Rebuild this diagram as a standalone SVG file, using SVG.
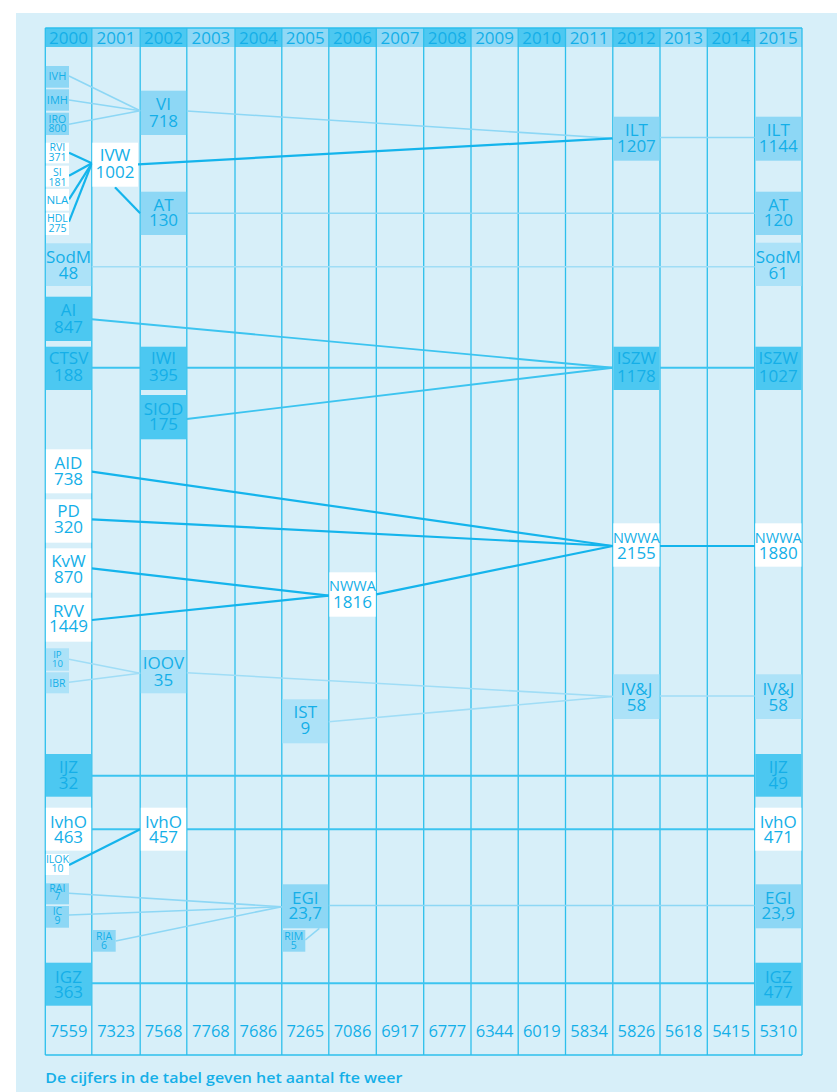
<svg xmlns="http://www.w3.org/2000/svg" width="837" height="1092" viewBox="0 0 837 1092">
<style>
text{font-family:"Open Sans","Noto Sans","Liberation Sans",sans-serif;fill:#14afe8;text-anchor:middle}
.t17{font-size:17px}
.t16{font-size:16.5px}
.t13{font-size:14.5px}
.t11{font-size:11.5px}
.t10{font-size:11px}
.t9{font-size:10.5px}
.t8{font-size:9.5px}
.dk{fill:#4cc8f1}
.md{fill:#8dd7f5}
.lt{fill:#ace2f8}
.wh{fill:#ffffff}
.hd{fill:#4dc8f1}
.hl{fill:#8fd8f5}
.grid line{stroke:#2dbfec;stroke-width:1.3}
.c-md{stroke:#8dd7f5;stroke-width:1.6;fill:none}
.c-lt{stroke:#a0ddf6;stroke-width:1.6;fill:none}
.c-dk{stroke:#3cc4f0;stroke-width:1.9;fill:none}
.c-wh{stroke:#14b4ec;stroke-width:2.2;fill:none}
</style>
<rect x="0" y="0" width="837" height="1092" fill="#ffffff"/>
<rect x="16" y="13" width="821" height="1079" fill="#d7eff9"/>

<g id="header">
<rect class="hd" x="45.3" y="28" width="46.5" height="19"/>
<rect class="hl" x="91.8" y="28" width="48.4" height="19"/>
<rect class="hd" x="140.2" y="28" width="46.6" height="19"/>
<rect class="hl" x="186.8" y="28" width="48.2" height="19"/>
<rect class="hd" x="235" y="28" width="46.8" height="19"/>
<rect class="hl" x="281.8" y="28" width="47" height="19"/>
<rect class="hd" x="328.8" y="28" width="47.5" height="19"/>
<rect class="hl" x="376.3" y="28" width="47.4" height="19"/>
<rect class="hd" x="423.7" y="28" width="47.3" height="19"/>
<rect class="hl" x="471" y="28" width="47.2" height="19"/>
<rect class="hd" x="518.2" y="28" width="47.3" height="19"/>
<rect class="hl" x="565.5" y="28" width="47.3" height="19"/>
<rect class="hd" x="612.8" y="28" width="47.2" height="19"/>
<rect class="hl" x="660" y="28" width="47.3" height="19"/>
<rect class="hd" x="707.3" y="28" width="47.4" height="19"/>
<rect class="hl" x="754.7" y="28" width="47.3" height="19"/>
<text class="t17" x="68.5" y="44">2000</text>
<text class="t17" x="116" y="44">2001</text>
<text class="t17" x="163.5" y="44">2002</text>
<text class="t17" x="210.9" y="44">2003</text>
<text class="t17" x="258.4" y="44">2004</text>
<text class="t17" x="305.3" y="44">2005</text>
<text class="t17" x="352.5" y="44">2006</text>
<text class="t17" x="400" y="44">2007</text>
<text class="t17" x="447.3" y="44">2008</text>
<text class="t17" x="494.6" y="44">2009</text>
<text class="t17" x="541.8" y="44">2010</text>
<text class="t17" x="589.1" y="44">2011</text>
<text class="t17" x="636.4" y="44">2012</text>
<text class="t17" x="683.6" y="44">2013</text>
<text class="t17" x="731" y="44">2014</text>
<text class="t17" x="778.3" y="44">2015</text>
</g>

<g class="grid" id="grid">
<line x1="45.3" y1="28" x2="45.3" y2="1055"/>
<line x1="91.8" y1="28" x2="91.8" y2="1055"/>
<line x1="140.2" y1="28" x2="140.2" y2="1055"/>
<line x1="186.8" y1="28" x2="186.8" y2="1055"/>
<line x1="235" y1="28" x2="235" y2="1055"/>
<line x1="281.8" y1="28" x2="281.8" y2="1055"/>
<line x1="328.8" y1="28" x2="328.8" y2="1055"/>
<line x1="376.3" y1="28" x2="376.3" y2="1055"/>
<line x1="423.7" y1="28" x2="423.7" y2="1055"/>
<line x1="471" y1="28" x2="471" y2="1055"/>
<line x1="518.2" y1="28" x2="518.2" y2="1055"/>
<line x1="565.5" y1="28" x2="565.5" y2="1055"/>
<line x1="612.8" y1="28" x2="612.8" y2="1055"/>
<line x1="660" y1="28" x2="660" y2="1055"/>
<line x1="707.3" y1="28" x2="707.3" y2="1055"/>
<line x1="754.7" y1="28" x2="754.7" y2="1055"/>
<line x1="802" y1="28" x2="802" y2="1055"/>
<line x1="45.3" y1="28" x2="802" y2="28"/>
<line x1="45.3" y1="1055" x2="802" y2="1055"/>
</g>

<g id="connectors">
<line class="c-md" x1="69" y1="76" x2="140.2" y2="110.7"/>
<line class="c-md" x1="69" y1="100" x2="140.2" y2="110.7"/>
<line class="c-md" x1="69" y1="124.3" x2="140.2" y2="110.7"/>
<line class="c-md" x1="186.8" y1="111" x2="612.8" y2="138.3"/>
<line class="c-md" x1="660" y1="137.5" x2="754.7" y2="137.5"/>
<line class="c-md" x1="186.8" y1="213.3" x2="754.7" y2="213.3"/>
<line class="c-md" x1="69" y1="893.3" x2="281.8" y2="906.7"/>
<line class="c-md" x1="69" y1="915" x2="281.8" y2="906.7"/>
<line class="c-md" x1="115.7" y1="941" x2="281.8" y2="906.7"/>
<line class="c-md" x1="305.3" y1="940" x2="319.3" y2="928.3"/>
<line class="c-md" x1="328.8" y1="905.5" x2="754.7" y2="905.5"/>
<line class="c-lt" x1="91.8" y1="266.7" x2="754.7" y2="266.7"/>
<line class="c-lt" x1="69" y1="659.3" x2="140.2" y2="673.3"/>
<line class="c-lt" x1="69" y1="682.3" x2="140.2" y2="673.3"/>
<line class="c-lt" x1="186.8" y1="672.7" x2="612.8" y2="696.5"/>
<line class="c-lt" x1="328.8" y1="721.7" x2="612.8" y2="696.5"/>
<line class="c-lt" x1="660" y1="696" x2="754.7" y2="696"/>
<line class="c-dk" x1="91.8" y1="319.3" x2="612.8" y2="367.7"/>
<line class="c-dk" x1="91.8" y1="367.7" x2="140.2" y2="367.7"/>
<line class="c-dk" x1="186.8" y1="367.7" x2="612.8" y2="367.7"/>
<line class="c-dk" x1="660" y1="367.7" x2="754.7" y2="367.7"/>
<line class="c-dk" x1="186.8" y1="419" x2="612.8" y2="367.7"/>
<line class="c-dk" x1="91.8" y1="775.7" x2="754.7" y2="775.7"/>
<line class="c-dk" x1="91.8" y1="983.3" x2="754.7" y2="983.3"/>
<line class="c-dk" x1="91.8" y1="829.3" x2="140.2" y2="829.3"/>
<line class="c-dk" x1="186.8" y1="829.3" x2="754.7" y2="829.3"/>
<line class="c-wh" x1="69" y1="152.7" x2="91.8" y2="163.3"/>
<line class="c-wh" x1="69" y1="175.7" x2="91.8" y2="163.3"/>
<line class="c-wh" x1="69" y1="199.3" x2="91.8" y2="163.3"/>
<line class="c-wh" x1="69" y1="221.7" x2="91.8" y2="163.3"/>
<line class="c-wh" x1="138" y1="164.3" x2="612.8" y2="138.3"/>
<line class="c-wh" x1="115" y1="187.3" x2="140.2" y2="213.3"/>
<line class="c-wh" x1="91.8" y1="471.7" x2="612.8" y2="546"/>
<line class="c-wh" x1="91.8" y1="519.3" x2="612.8" y2="546"/>
<line class="c-wh" x1="91.8" y1="568.3" x2="328.8" y2="595.7"/>
<line class="c-wh" x1="91.8" y1="620" x2="328.8" y2="595.7"/>
<line class="c-wh" x1="376.3" y1="594.3" x2="612.8" y2="546"/>
<line class="c-wh" x1="660" y1="546" x2="754.7" y2="546"/>
<line class="c-wh" x1="69" y1="865" x2="140.2" y2="829.3"/>
</g>

<!-- 2000 column -->
<g id="IVH"><rect class="md" x="45.9" y="66" width="23.1" height="21.7"/><text class="t10" x="57.4" y="80">IVH</text></g>
<g id="IMH"><rect class="md" x="45.9" y="89.3" width="23.1" height="21.4"/><text class="t10" x="57.4" y="104">IMH</text></g>
<g id="IRO"><rect class="md" x="45.9" y="112.7" width="23.1" height="22.3"/><text class="t9" x="57.4" y="122.8">IRO</text><text class="t9" x="57.4" y="132">800</text></g>
<g id="RVI"><rect class="wh" x="45.9" y="142.7" width="23.1" height="20.6"/><text class="t9" x="57.4" y="150.6">RVI</text><text class="t9" x="57.4" y="160.6">371</text></g>
<g id="SI"><rect class="wh" x="45.9" y="165.7" width="23.1" height="21"/><text class="t9" x="57.4" y="175.6">SI</text><text class="t9" x="57.4" y="185.6">181</text></g>
<g id="NLA"><rect class="wh" x="45.9" y="189" width="23.1" height="21.7"/><text class="t11" x="57.4" y="204.1">NLA</text></g>
<g id="HDL"><rect class="wh" x="45.9" y="212.7" width="23.1" height="22.3"/><text class="t9" x="57.4" y="222.2">HDL</text><text class="t9" x="57.4" y="232.2">275</text></g>
<g id="SodM2000"><rect class="lt" x="45.9" y="243.3" width="45.3" height="42.7"/><text class="t17" x="68.5" y="262.8">SodM</text><text class="t17" x="68.5" y="278.8">48</text></g>
<g id="AI"><rect class="dk" x="45.9" y="296.7" width="45.3" height="44.3"/><text class="t17" x="68.5" y="316.1">AI</text><text class="t17" x="68.5" y="332.8">847</text></g>
<g id="CTSV"><rect class="dk" x="45.9" y="346.7" width="45.3" height="43.3"/><text class="t17" x="68.5" y="364.4">CTSV</text><text class="t17" x="68.5" y="381.1">188</text></g>
<g id="AID"><rect class="wh" x="45.9" y="449.3" width="45.3" height="44"/><text class="t17" x="68.5" y="469.4">AID</text><text class="t17" x="68.5" y="485.4">738</text></g>
<g id="PD"><rect class="wh" x="45.9" y="499.3" width="45.3" height="43.4"/><text class="t17" x="68.5" y="517.1">PD</text><text class="t17" x="68.5" y="533.4">320</text></g>
<g id="KvW"><rect class="wh" x="45.9" y="548.3" width="45.3" height="44.4"/><text class="t17" x="68.5" y="567.1">KvW</text><text class="t17" x="68.5" y="582.8">870</text></g>
<g id="RVV"><rect class="wh" x="45.9" y="597.7" width="45.3" height="44"/><text class="t17" x="68.5" y="616.8">RVV</text><text class="t17" x="68.5" y="632.1">1449</text></g>
<g id="IP"><rect class="lt" x="45.9" y="648.3" width="23.1" height="22.4"/><text class="t8" x="57.4" y="658.4">IP</text><text class="t8" x="57.4" y="666.8">10</text></g>
<g id="IBR"><rect class="lt" x="45.9" y="672.3" width="23.1" height="21"/><text class="t9" x="57.4" y="687">IBR</text></g>
<g id="IJZ2000"><rect class="dk" x="45.9" y="754" width="45.3" height="42.7"/><text class="t17" x="68.5" y="773.4">IJZ</text><text class="t17" x="68.5" y="789.4">32</text></g>
<g id="IvhO2000"><rect class="wh" x="45.9" y="807.7" width="45.3" height="43"/><text class="t17" x="68.5" y="827.8">IvhO</text><text class="t17" x="68.5" y="842.8">463</text></g>
<g id="ILOK"><rect class="wh" x="45.9" y="854" width="23.1" height="21"/><text class="t9" x="57.4" y="862.7">ILOK</text><text class="t9" x="57.4" y="872">10</text></g>
<g id="RAI"><rect class="md" x="45.9" y="883.3" width="23.1" height="21"/><text class="t9" x="57.4" y="891.8">RAI</text><text class="t9" x="57.4" y="900.2">7</text></g>
<g id="IC"><rect class="md" x="45.9" y="906" width="23.1" height="21.7"/><text class="t9" x="57.4" y="915.2">IC</text><text class="t9" x="57.4" y="923.5">9</text></g>
<g id="IGZ2000"><rect class="dk" x="45.9" y="962.7" width="45.3" height="43"/><text class="t17" x="68.5" y="982.8">IGZ</text><text class="t17" x="68.5" y="997.8">363</text></g>

<!-- 2001 column -->
<g id="IVW"><rect class="wh" x="92.4" y="142.7" width="45.6" height="44"/><text class="t17" x="115" y="161.1">IVW</text><text class="t17" x="115" y="177.8">1002</text></g>
<g id="RIA"><rect class="md" x="92.4" y="930" width="23.3" height="21.7"/><text class="t9" x="104" y="939.5">RIA</text><text class="t9" x="104" y="948.5">6</text></g>

<!-- 2002 column -->
<g id="VI"><rect class="md" x="140.8" y="90.7" width="45.4" height="44.3"/><text class="t17" x="163.5" y="110.1">VI</text><text class="t17" x="163.5" y="126.8">718</text></g>
<g id="AT2002"><rect class="md" x="140.8" y="191.7" width="45.4" height="43.3"/><text class="t17" x="163.5" y="211.1">AT</text><text class="t17" x="163.5" y="226.1">130</text></g>
<g id="IWI"><rect class="dk" x="140.8" y="346.7" width="45.4" height="43.3"/><text class="t17" x="163.5" y="364.4">IWI</text><text class="t17" x="163.5" y="381.1">395</text></g>
<g id="SIOD"><rect class="dk" x="140.8" y="395" width="45.4" height="44.3"/><text class="t17" x="163.5" y="415.1">SIOD</text><text class="t17" x="163.5" y="430.4">175</text></g>
<g id="IOOV"><rect class="lt" x="140.8" y="650" width="45.4" height="43.3"/><text class="t17" x="163.5" y="669.4">IOOV</text><text class="t17" x="163.5" y="686.1">35</text></g>
<g id="IvhO2002"><rect class="wh" x="140.8" y="807.7" width="45.4" height="43"/><text class="t17" x="163.5" y="827.8">IvhO</text><text class="t17" x="163.5" y="842.8">457</text></g>

<!-- 2005 column -->
<g id="IST"><rect class="lt" x="282.4" y="699.3" width="45.8" height="44"/><text class="t17" x="305.3" y="717.8">IST</text><text class="t17" x="305.3" y="733.8">9</text></g>
<g id="EGI2005"><rect class="md" x="282.4" y="884.3" width="45.8" height="44"/><text class="t17" x="305.3" y="904.4">EGI</text><text class="t17" x="305.3" y="919.4">23,7</text></g>
<g id="RIM"><rect class="md" x="282.4" y="930" width="22.9" height="21.7"/><text class="t9" x="293.8" y="939.5">RIM</text><text class="t9" x="293.8" y="948.5">5</text></g>

<!-- 2006 column -->
<g id="NWWA2006"><rect class="wh" x="329.4" y="572.3" width="46.3" height="44.4"/><text class="t13" x="352.5" y="590.8">NWWA</text><text class="t17" x="352.5" y="608.4">1816</text></g>

<!-- 2012 column -->
<g id="ILT2012"><rect class="md" x="613.4" y="116.7" width="46" height="44"/><text class="t17" x="636.4" y="136.1">ILT</text><text class="t17" x="636.4" y="151.8">1207</text></g>
<g id="ISZW2012"><rect class="dk" x="613.4" y="346.7" width="46" height="43.3"/><text class="t17" x="636.4" y="363.8">ISZW</text><text class="t17" x="636.4" y="381.8">1178</text></g>
<g id="NWWA2012"><rect class="wh" x="613.4" y="523.3" width="46" height="43.4"/><text class="t13" x="636.4" y="542.8">NWWA</text><text class="t17" x="636.4" y="558.8">2155</text></g>
<g id="IVJ2012"><rect class="lt" x="613.4" y="674.3" width="46" height="44.7"/><text class="t17" x="636.4" y="695.4">IV&amp;J</text><text class="t17" x="636.4" y="711.1">58</text></g>

<!-- 2015 column -->
<g id="ILT2015"><rect class="md" x="755.3" y="116.7" width="46.1" height="44"/><text class="t17" x="778.3" y="136.1">ILT</text><text class="t17" x="778.3" y="151.8">1144</text></g>
<g id="AT2015"><rect class="md" x="755.3" y="191.7" width="46.1" height="43.3"/><text class="t17" x="778.3" y="211.1">AT</text><text class="t17" x="778.3" y="226.1">120</text></g>
<g id="SodM2015"><rect class="lt" x="755.3" y="242.7" width="46.1" height="43.3"/><text class="t17" x="778.3" y="262.8">SodM</text><text class="t17" x="778.3" y="278.8">61</text></g>
<g id="ISZW2015"><rect class="dk" x="755.3" y="346.7" width="46.1" height="43.3"/><text class="t17" x="778.3" y="363.8">ISZW</text><text class="t17" x="778.3" y="381.8">1027</text></g>
<g id="NWWA2015"><rect class="wh" x="755.3" y="523.3" width="46.1" height="43.4"/><text class="t13" x="778.3" y="542.8">NWWA</text><text class="t17" x="778.3" y="558.8">1880</text></g>
<g id="IVJ2015"><rect class="lt" x="755.3" y="674.3" width="46.1" height="44.7"/><text class="t17" x="778.3" y="695.4">IV&amp;J</text><text class="t17" x="778.3" y="711.1">58</text></g>
<g id="IJZ2015"><rect class="dk" x="755.3" y="754" width="46.1" height="42.7"/><text class="t17" x="778.3" y="773.4">IJZ</text><text class="t17" x="778.3" y="789.4">49</text></g>
<g id="IvhO2015"><rect class="wh" x="755.3" y="807.7" width="46.1" height="43"/><text class="t17" x="778.3" y="827.8">IvhO</text><text class="t17" x="778.3" y="842.8">471</text></g>
<g id="EGI2015"><rect class="md" x="755.3" y="884.3" width="46.1" height="44"/><text class="t17" x="778.3" y="904.4">EGI</text><text class="t17" x="778.3" y="919.4">23,9</text></g>
<g id="IGZ2015"><rect class="dk" x="755.3" y="962.7" width="46.1" height="43"/><text class="t17" x="778.3" y="982.8">IGZ</text><text class="t17" x="778.3" y="997.8">477</text></g>

<g id="totals">
<text class="t16" x="68.5" y="1037">7559</text>
<text class="t16" x="116" y="1037">7323</text>
<text class="t16" x="163.5" y="1037">7568</text>
<text class="t16" x="210.9" y="1037">7768</text>
<text class="t16" x="258.4" y="1037">7686</text>
<text class="t16" x="305.3" y="1037">7265</text>
<text class="t16" x="352.5" y="1037">7086</text>
<text class="t16" x="400" y="1037">6917</text>
<text class="t16" x="447.3" y="1037">6777</text>
<text class="t16" x="494.6" y="1037">6344</text>
<text class="t16" x="541.8" y="1037">6019</text>
<text class="t16" x="589.1" y="1037">5834</text>
<text class="t16" x="636.4" y="1037">5826</text>
<text class="t16" x="683.6" y="1037">5618</text>
<text class="t16" x="731" y="1037">5415</text>
<text class="t16" x="778.3" y="1037">5310</text>
</g>

<text id="caption" x="45.3" y="1083" style="text-anchor:start;font-size:15px;font-weight:600" textLength="357" lengthAdjust="spacingAndGlyphs">De cijfers in de tabel geven het aantal fte weer</text>
</svg>
